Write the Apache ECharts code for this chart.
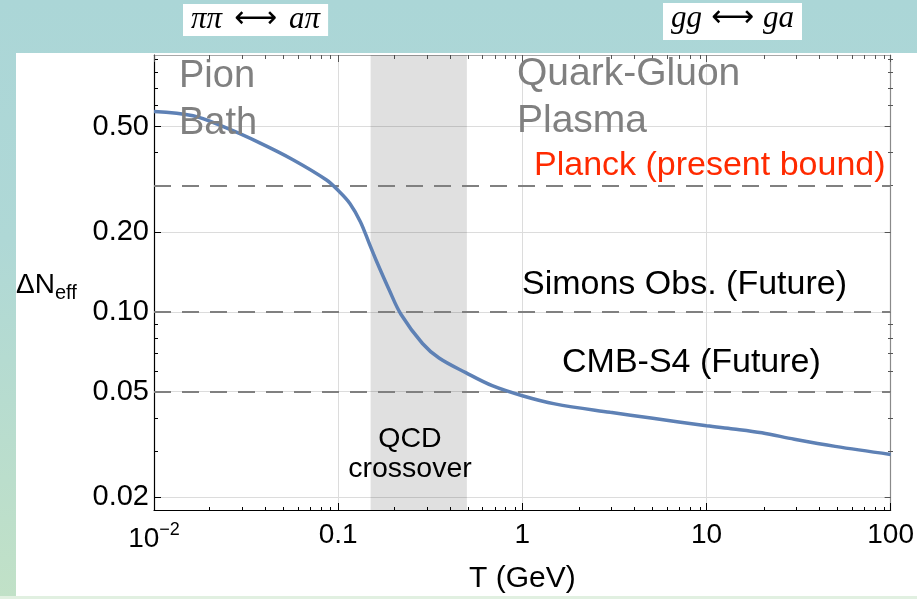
<!DOCTYPE html>
<html>
<head>
<meta charset="utf-8">
<script src="https://cdn.jsdelivr.net/npm/echarts@6/dist/echarts.min.js"></script>
<style>
html, body { margin: 0; padding: 0; }
body { width: 917px; height: 599px; overflow: hidden; position: relative;
  background: linear-gradient(to bottom, #abd6d7 0%, #afd8d6 40%, #c1e1c7 100%); }
#panel { position: absolute; left: 16px; top: 53px; width: 901px; height: 543px; background: #fff; }
#foot { position: absolute; left: 0; top: 596px; width: 917px; height: 3px; background: #e1f0e1; }
#main { position: absolute; left: 0; top: 0; width: 917px; height: 599px; }
</style>
</head>
<body>
<div id="panel"></div>
<div id="foot"></div>
<div id="main"></div>
<script>
// 数据 - 温度 T (GeV) 与 ΔNeff
const tempT = [0.01, 0.0163, 0.0247, 0.0375, 0.0568, 0.0861, 0.1016, 0.116, 0.132, 0.1476, 0.1605,
    0.1894, 0.2192, 0.287, 0.353, 0.493, 0.686, 1.0, 1.5, 3, 5, 10, 14, 20, 30, 50, 100];
const deltaNeff = [0.570, 0.549, 0.494, 0.434, 0.375, 0.315, 0.284, 0.256, 0.219, 0.181, 0.157,
    0.121, 0.098, 0.076, 0.067, 0.059, 0.0527, 0.0483, 0.0450, 0.0418, 0.0398, 0.0372, 0.0362, 0.0350, 0.0331, 0.0311, 0.0290];

// 刻度
const xMajor = [0.01, 0.1, 1, 10, 100];
const xMinor = [0.02, 0.03, 0.04, 0.05, 0.06, 0.07, 0.08, 0.09,
    0.2, 0.3, 0.4, 0.5, 0.6, 0.7, 0.8, 0.9,
    2, 3, 4, 5, 6, 7, 8, 9,
    20, 30, 40, 50, 60, 70, 80, 90];
const yMajor = [0.02, 0.05, 0.1, 0.2, 0.5];
const yMinor = [0.03, 0.04, 0.06, 0.07, 0.08, 0.09, 0.3, 0.4, 0.6, 0.7, 0.8, 0.9];

// 观测界限
const boundNames = ['Planck (present bound)', 'Simons Obs. (Future)', 'CMB-S4 (Future)'];
const boundValues = [0.3, 0.1, 0.052];
// QCD crossover 区间
const qcdRange = [0.15, 0.5];

const FONT = '"Liberation Sans", Arial, sans-serif';
const xMin = 0.01, xMax = 100, yMin = 0.0179, yMax = 0.931;

function fmtX(v) {
    if (Math.abs(v - 0.01) < 1e-9) return '{b|10}{s|\u22122}';
    return String(+v.toPrecision(3));
}

// 坐标轴工厂
function xAxisOf(grid, pos, ticks, len, line, tickColor) {
    return {
        type: 'log', gridIndex: grid, position: pos, min: xMin, max: xMax,
        axisLine: { show: !!line, onZero: false, lineStyle: { color: line || '#000', width: 1.2 } },
        axisTick: { show: true, inside: true, length: len, customValues: ticks, lineStyle: { color: tickColor } },
        axisLabel: { show: false },
        splitLine: { show: false }
    };
}
function yAxisOf(grid, pos, ticks, len, line, tickColor) {
    return {
        type: 'log', gridIndex: grid, position: pos, min: yMin, max: yMax,
        axisLine: { show: !!line, onZero: false, lineStyle: { color: line || '#000', width: 1.2 } },
        axisTick: { show: true, inside: true, length: len, customValues: ticks, lineStyle: { color: tickColor } },
        axisLabel: { show: false },
        splitLine: { show: false }
    };
}

let xBottom = xAxisOf(0, 'bottom', xMajor, 7, '#000', '#000');
xBottom.name = 'T (GeV)';
xBottom.nameLocation = 'middle';
xBottom.nameGap = 54;
xBottom.nameTextStyle = { fontSize: 30, color: '#000', fontFamily: FONT };
xBottom.axisLabel = {
    show: true, customValues: xMajor, fontSize: 28, color: '#000', margin: 11, fontFamily: FONT,
    formatter: fmtX,
    rich: {
        b: { fontSize: 28, color: '#000', fontFamily: FONT, verticalAlign: 'bottom' },
        s: { fontSize: 18, color: '#000', fontFamily: FONT, verticalAlign: 'bottom', padding: [0, 0, 14, 0] }
    }
};
xBottom.splitLine = { show: true, lineStyle: { color: '#dcdcdc', width: 1 } };

let yLeft = yAxisOf(0, 'left', yMajor, 7, '#000', '#000');
yLeft.axisLabel = {
    show: true, customValues: yMajor, fontSize: 29, color: '#000', margin: 5, fontFamily: FONT,
    formatter: v => v.toFixed(2)
};
yLeft.splitLine = { show: true, lineStyle: { color: '#dcdcdc', width: 1 } };

let myChart = echarts.init(document.getElementById('main'));
let option = {
    backgroundColor: 'transparent',
    animation: false,
    grid: [
        { left: 154, right: 24, top: 55, bottom: 88 },
        { left: 154, right: 24, top: 55, bottom: 88 }
    ],
    xAxis: [
        xBottom,
        xAxisOf(0, 'top', xMajor, 7, '#a8a8a8', '#555'),
        xAxisOf(1, 'bottom', xMinor, 4, null, '#000'),
        xAxisOf(1, 'top', xMinor, 4, null, '#555')
    ],
    yAxis: [
        yLeft,
        yAxisOf(0, 'right', yMajor, 6, '#8a8a8a', '#555'),
        yAxisOf(1, 'left', yMinor, 4, null, '#000'),
        yAxisOf(1, 'right', yMinor, 5, null, '#555')
    ],
    series: [{
        type: 'line',
        xAxisIndex: 0,
        yAxisIndex: 0,
        data: tempT.map((t, i) => [t, deltaNeff[i]]),
        showSymbol: false,
        smooth: 0.35,
        lineStyle: { color: '#5e81b5', width: 3.5 },
        z: 5,
        markArea: {
            silent: true,
            itemStyle: { color: 'rgba(0,0,0,0.12)' },
            data: [[{ xAxis: qcdRange[0] }, { xAxis: qcdRange[1] }]]
        },
        markLine: {
            silent: true,
            symbol: ['none', 'none'],
            label: { show: false },
            lineStyle: { type: [17, 11], color: '#808080', width: 2 },
            data: boundValues.map(v => ({ yAxis: v }))
        }
    }],
    graphic: [
        {
            type: 'text', left: 183, top: 4,
            style: {
                text: '{i|ππ}{r|⟷}{i|aπ}', fill: '#000', backgroundColor: '#fff', padding: [0, 8, 1, 8],
                font: '30px "Liberation Serif"',
                rich: {
                    i: { fontStyle: 'italic', fontSize: 31, fontFamily: 'Liberation Serif', lineHeight: 31 },
                    r: { fontSize: 30, fontFamily: 'DejaVu Sans', lineHeight: 31, padding: [0, 12] }
                }
            }
        },
        {
            type: 'text', left: 663, top: 3,
            style: {
                text: '{i|gg}{r|⟷}{i|ga}', fill: '#000', backgroundColor: '#fff', padding: [0, 8, 6, 8],
                font: '30px "Liberation Serif"',
                rich: {
                    i: { fontStyle: 'italic', fontSize: 31, fontFamily: 'Liberation Serif', lineHeight: 31 },
                    r: { fontSize: 30, fontFamily: 'DejaVu Sans', lineHeight: 31, padding: [0, 9] }
                }
            }
        },
        {
            type: 'text', z: 10,
            style: { text: 'Pion\nBath', x: 179, y: 100, fill: '#808080', font: '38px ' + FONT, lineHeight: 47,
                align: 'left', verticalAlign: 'middle', textAlign: 'left', textVerticalAlign: 'middle' }
        },
        {
            type: 'text', z: 10,
            style: { text: 'Quark-Gluon\nPlasma', x: 517, y: 98, fill: '#808080', font: '39px ' + FONT, lineHeight: 47,
                align: 'left', verticalAlign: 'middle', textAlign: 'left', textVerticalAlign: 'middle' }
        },
        {
            type: 'text', z: 10,
            style: { text: boundNames[0], x: 534, y: 166, fill: '#ff2a00', font: '34px ' + FONT,
                align: 'left', verticalAlign: 'middle', textAlign: 'left', textVerticalAlign: 'middle' }
        },
        {
            type: 'text', z: 10,
            style: { text: boundNames[1], x: 522, y: 285, fill: '#000', font: '34px ' + FONT,
                align: 'left', verticalAlign: 'middle', textAlign: 'left', textVerticalAlign: 'middle' }
        },
        {
            type: 'text', z: 10,
            style: { text: boundNames[2], x: 562, y: 363, fill: '#000', font: '34px ' + FONT,
                align: 'left', verticalAlign: 'middle', textAlign: 'left', textVerticalAlign: 'middle' }
        },
        {
            type: 'text', z: 10,
            style: { text: 'QCD\ncrossover', x: 410, y: 454, fill: '#000', font: '28.5px ' + FONT, lineHeight: 30,
                align: 'center', verticalAlign: 'middle', textAlign: 'center', textVerticalAlign: 'middle' }
        },
        {
            type: 'text', z: 10,
            style: {
                text: '{a|ΔN}{b|eff}', x: 16, y: 285, fill: '#000',
                align: 'left', verticalAlign: 'middle', textAlign: 'left', textVerticalAlign: 'middle',
                rich: {
                    a: { fontSize: 28, fontFamily: FONT, verticalAlign: 'bottom' },
                    b: { fontSize: 20, fontFamily: FONT, verticalAlign: 'bottom', padding: [0, 0, -4, 0] }
                }
            }
        }
    ]
};
myChart.setOption(option);
</script>
</body>
</html>
